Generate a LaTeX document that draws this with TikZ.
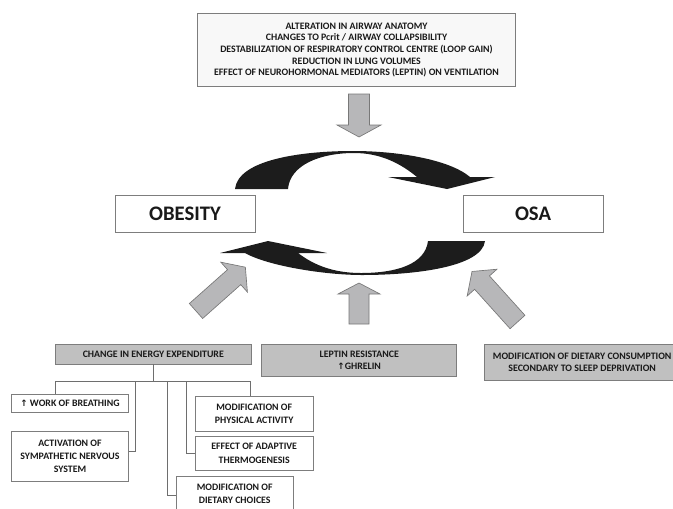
\documentclass[tikz,border=0pt]{standalone}
\usepackage{fontspec}
\setmainfont{Carlito}
\newfontfamily\symf{DejaVu Sans}
\definecolor{textc}{RGB}{25,25,25}
\definecolor{boxline}{RGB}{125,125,125}
\definecolor{boxgray}{RGB}{192,192,192}
\definecolor{topfill}{RGB}{248,248,248}
\definecolor{lineg}{RGB}{110,110,110}
\definecolor{arrfill}{RGB}{183,183,185}
\definecolor{arrline}{RGB}{120,120,120}
\definecolor{blackc}{RGB}{28,28,28}
\newcommand\garrow[7]{% x y angle length shafthalf headhalf headlen
  \begin{scope}[shift={(#1,#2)}, rotate=#3]
    \draw[garr] (0,-#5) -- ({#4-#7},-#5) -- ({#4-#7},-#6) -- (#4,0) -- ({#4-#7},#6) -- ({#4-#7},#5) -- (0,#5) -- cycle;
  \end{scope}}
\begin{document}
\begin{tikzpicture}[x=0.75pt,y=-0.75pt,
  txt/.style={font=\fontsize{7.4}{8.7}\selectfont\bfseries, text=textc, align=center},
  wbox/.style={draw=boxline, fill=white, inner sep=0pt, line width=0.6pt, txt},
  wboxl/.style={wbox, font=\fontsize{7.4}{10}\selectfont\bfseries},
  gbox/.style={wbox, fill=boxgray},
  bigbox/.style={draw=boxline, fill=white, inner sep=0pt, line width=0.6pt, text=textc, font=\fontsize{15.5}{18}\selectfont\bfseries},
  conn/.style={draw=lineg, line width=0.6pt},
  garr/.style={draw=arrline, fill=arrfill, line width=0.5pt, line join=miter},
  blk/.style={fill=blackc}]
\useasboundingbox (0,0) rectangle (673,508);
\clip (0,0) rectangle (673,508);

% top box
\node[wbox, fill=topfill, minimum width=238pt, minimum height=55pt] (top) at (356.5,50)
  {ALTERATION IN AIRWAY ANATOMY\\CHANGES TO Pcrit / AIRWAY COLLAPSIBILITY\\DESTABILIZATION OF RESPIRATORY CONTROL CENTRE (LOOP GAIN)\\REDUCTION IN LUNG VOLUMES\\EFFECT OF NEUROHORMONAL MEDIATORS (LEPTIN) ON VENTILATION};

% main boxes
\node[bigbox, minimum width=105pt, minimum height=27.75pt] (obesity) at (185,213.5) {OBESITY};
\node[bigbox, minimum width=105pt, minimum height=27.75pt] (osa) at (533,213.5) {OSA};

% black cycle arrows
\fill[blk] (235,189) .. controls (238,160) and (300,151) .. (353,151)
  .. controls (400,151) and (450,160) .. (470,177) -- (495,177) -- (447,189) -- (388,177) -- (417,177)
  .. controls (400,163) and (380,153) .. (354,153) .. controls (320,153) and (290,165) .. (288,189) -- cycle;
\fill[blk] (485,241) .. controls (482,267) and (415,275) .. (362,275)
  .. controls (325,275) and (268,266) .. (245,253) -- (220,253) -- (268,241) -- (327,253) -- (298,253)
  .. controls (315,266) and (335,273) .. (361,273) .. controls (395,273) and (425,265) .. (428,241) -- cycle;

% gray arrows
\garrow{359}{94}{-90}{43}{10.5}{22}{12}
\garrow{359}{324}{90}{41}{10}{21}{11}
\garrow{196}{311}{41.6}{66}{10}{20}{15}
\garrow{517.5}{322}{132}{68}{10}{20}{15}

% lower boxes
\node[gbox, minimum width=147.5pt, minimum height=15pt] (change) at (153.3,354) {CHANGE IN ENERGY EXPENDITURE};
\node[gbox, minimum width=146.25pt, minimum height=24.5pt] (leptin) at (359.2,360.3) {LEPTIN RESISTANCE\\{\symf\fontsize{6.6}{8}\selectfont ↑}GHRELIN};
\node[gbox, minimum width=147pt, minimum height=27.5pt] (dietcons) at (582.2,362.3) {MODIFICATION OF DIETARY CONSUMPTION\\SECONDARY TO SLEEP DEPRIVATION};

\node[wbox, minimum width=87.5pt, minimum height=13.8pt] (wob) at (70,403.5) {{\symf\fontsize{6.6}{8}\selectfont ↑} WORK OF BREATHING};
\node[wboxl, minimum width=87.5pt, minimum height=38pt] (sns) at (70,456.3) {ACTIVATION OF\\SYMPATHETIC NERVOUS\\SYSTEM};
\node[wboxl, minimum width=88.7pt, minimum height=25.7pt] (phys) at (254.2,413.8) {MODIFICATION OF\\PHYSICAL ACTIVITY};
\node[wboxl, minimum width=88.7pt, minimum height=26pt] (thermo) at (254.2,453.3) {EFFECT OF ADAPTIVE\\THERMOGENESIS};
\node[wboxl, minimum width=88pt, minimum height=25.7pt] (dietch) at (234.7,494) {MODIFICATION OF\\DIETARY CHOICES};

% tree connectors
\coordinate (hub) at (153.3,381);
\coordinate (b1) at (55,381);
\coordinate (b2) at (135,381);
\coordinate (b3) at (167.7,381);
\coordinate (b4) at (186.7,381);
\coordinate (b5) at (250.7,381);
\draw[conn] (change.south) -- (hub);
\draw[conn] (b1) -- (b5);
\draw[conn] (b1) -- (b1 |- wob.north);
\draw[conn] (b5) -- (b5 |- phys.north);
\draw[conn] (b2) |- ([yshift=3.5pt]sns.east);
\draw[conn] (b4) |- (thermo.west);
\draw[conn] (b3) |- ([yshift=-1.4pt]dietch.west);
\end{tikzpicture}
\end{document}
